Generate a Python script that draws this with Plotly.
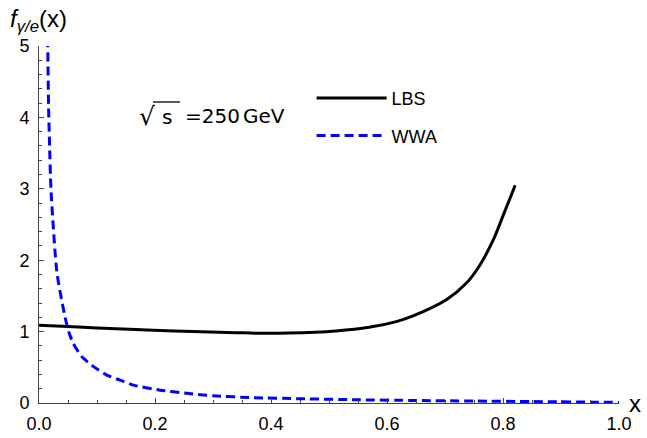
import plotly.graph_objects as go

# Photon distribution in the electron, f_{gamma/e}(x), at sqrt(s) = 250 GeV
lbs_x = [0.0, 0.05, 0.1, 0.167, 0.209, 0.25, 0.34, 0.38, 0.43, 0.512, 0.569, 0.616,
         0.645, 0.703, 0.737, 0.760, 0.783, 0.80, 0.821]
lbs_y = [1.09, 1.07, 1.05, 1.03, 1.015, 1.005, 0.985, 0.977, 0.98, 1.01, 1.06, 1.14,
         1.22, 1.45, 1.68, 1.93, 2.28, 2.62, 3.05]

wwa_x = [0.014, 0.015, 0.0165, 0.018, 0.0207, 0.031, 0.045, 0.052, 0.059, 0.0736,
         0.094, 0.117, 0.14, 0.163, 0.209, 0.255, 0.30, 0.37, 0.45, 0.55, 0.65,
         0.75, 0.85, 0.95, 1.0]
wwa_y = [5.3, 5.0, 4.15, 3.68, 2.98, 1.82, 1.2, 0.98, 0.835, 0.65,
         0.51, 0.39, 0.32, 0.25, 0.18, 0.135, 0.10, 0.075, 0.06, 0.045, 0.035,
         0.027, 0.02, 0.012, 0.008]

x_ticks = [0.0, 0.2, 0.4, 0.6, 0.8, 1.0]
x_tick_text = ["0.0", "0.2", "0.4", "0.6", "0.8", "1.0"]
y_ticks = [0, 1, 2, 3, 4, 5]
y_tick_text = ["0", "1", "2", "3", "4", "5"]

AXIS_COLOR = "#444444"
FONT = "Arial"
LABEL_FONT = "DejaVu Sans"

# plot area in pixels: left 39, width 580, top 46, height 357
def px(xp):
    return (xp - 39) / 580


def py(yp):
    return (403 - yp) / 357


fig = go.Figure()
fig.add_trace(go.Scatter(
    x=lbs_x, y=lbs_y, mode="lines", name="LBS", legendgroup="a",
    line=dict(color="black", width=3, shape="spline", smoothing=0.8),
))
fig.add_trace(go.Scatter(
    x=wwa_x, y=wwa_y, mode="lines", name="WWA", legendgroup="b",
    line=dict(color="#0000ff", width=3, dash="9px,5px", shape="spline", smoothing=0.6),
))

fig.update_layout(
    width=647, height=438,
    margin=dict(l=39, r=28, t=46, b=35),
    paper_bgcolor="white", plot_bgcolor="white",
    font=dict(family=FONT, size=18, color="black"),
    showlegend=True,
    legend=dict(
        x=0.47, y=0.905, xanchor="left", yanchor="top",
        bgcolor="rgba(0,0,0,0)", itemwidth=70, tracegroupgap=11,
        font=dict(family=FONT, size=18, color="black"),
    ),
    xaxis=dict(
        range=[0, 1.0], showgrid=False, zeroline=False, automargin=False,
        showline=True, linecolor=AXIS_COLOR, linewidth=1,
        ticks="inside", ticklen=5, tickcolor=AXIS_COLOR,
        tickvals=x_ticks, ticktext=x_tick_text, ticklabelstandoff=4,
        minor=dict(dtick=0.05, ticks="inside", ticklen=3, tickcolor=AXIS_COLOR),
    ),
    yaxis=dict(
        range=[0, 5], showgrid=False, zeroline=False, automargin=False,
        showline=True, linecolor=AXIS_COLOR, linewidth=1,
        ticks="inside", ticklen=5, tickcolor=AXIS_COLOR,
        tickvals=y_ticks, ticktext=y_tick_text, ticklabelstandoff=5,
        minor=dict(dtick=0.2, ticks="inside", ticklen=3, tickcolor=AXIS_COLOR),
    ),
)

# axis titles
fig.add_annotation(
    text="<i>f</i><sub><i>γ/e</i></sub>(x)", xref="paper", yref="paper",
    x=px(8), y=py(20), xanchor="left", yanchor="middle", showarrow=False,
    font=dict(family=FONT, size=24, color="black"),
)
fig.add_annotation(
    text="x", xref="paper", yref="paper",
    x=px(627), y=py(403), xanchor="left", yanchor="middle", showarrow=False,
    font=dict(family=FONT, size=24, color="black"),
)

# energy label: sqrt(s) = 250 GeV
fig.add_annotation(
    text="√", xref="paper", yref="paper",
    x=px(137), y=py(117), xanchor="left", yanchor="middle",
    showarrow=False, font=dict(family=LABEL_FONT, size=25, color="black"),
)
fig.add_shape(
    type="line", xref="paper", yref="paper",
    x0=px(153), x1=px(180), y0=py(102), y1=py(102),
    line=dict(color="black", width=1.3),
)
fig.add_annotation(
    text="s", xref="paper", yref="paper",
    x=px(160), y=py(117), xanchor="left", yanchor="middle",
    showarrow=False, font=dict(family=LABEL_FONT, size=20, color="black"),
)
fig.add_annotation(
    text="=250", xref="paper", yref="paper",
    x=px(183), y=py(116), xanchor="left", yanchor="middle",
    showarrow=False, font=dict(family=LABEL_FONT, size=20, color="black"),
)
fig.add_annotation(
    text="GeV", xref="paper", yref="paper",
    x=px(241), y=py(116), xanchor="left", yanchor="middle",
    showarrow=False, font=dict(family=LABEL_FONT, size=20, color="black"),
)

fig.write_html("out.html")
